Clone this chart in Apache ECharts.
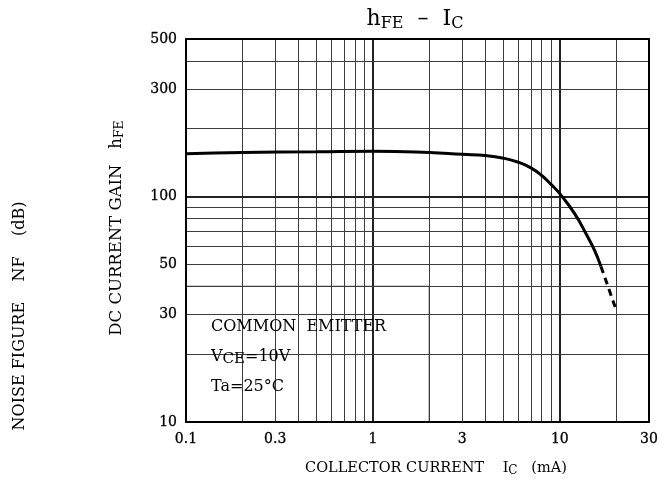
<!DOCTYPE html>
<html>
<head>
<meta charset="utf-8">
<script src="https://cdn.jsdelivr.net/npm/echarts@6/dist/echarts.min.js"></script>
<style>
html,body{margin:0;padding:0;background:#fff}
#main{width:670px;height:488px}
</style>
</head>
<body>
<div id="main"></div>
<script>
// hFE - IC curve
var icSolid  = [0.1, 0.2, 0.5, 1, 2, 3, 4, 5, 6, 7, 8, 9, 10, 12, 14, 15.3, 16.6];
var hfeSolid = [155, 157, 158, 159, 157, 154, 152, 148, 142, 134, 124, 113, 103, 84, 67, 58, 49];
var icDash   = [16.6, 20];
var hfeDash  = [49, 31.5];

// grid lines and tick labels
var xMinor = [0.2, 0.3, 0.4, 0.5, 0.6, 0.7, 0.8, 0.9, 2, 3, 4, 5, 6, 7, 8, 9, 20];
var xMajor = [1, 10];
var yMinor = [20, 30, 40, 50, 60, 70, 80, 90, 200, 300, 400];
var yMajor = [100];
var xTicks = [0.1, 0.3, 1, 3, 10, 30];
var yTicks = [10, 30, 50, 100, 300, 500];

// blank area holding the conditions text
var boxX = [0.1, 2];
var boxY = [10, 40];

var font = 'DejaVu Serif';

function gridLines(axis, minor, major) {
    return minor.concat(major).map(function (v) {
        var isMajor = major.indexOf(v) >= 0;
        var item = {
            lineStyle: {
                color: isMajor ? '#222' : '#3c3c3c',
                width: isMajor ? 2 : 1,
                type: 'solid'
            },
            label: { show: false }
        };
        item[axis] = v;
        return item;
    });
}

var mychart = echarts.init(document.getElementById('main'));

function frameAxis(pos, min, max, ticks) {
    return {
        type: 'log',
        logBase: 10,
        position: pos,
        min: min,
        max: max,
        z: 10,
        axisLine: { show: true, onZero: false, lineStyle: { color: '#000', width: 2 } },
        axisTick: { show: false },
        axisLabel: ticks ? {
            show: true,
            customValues: ticks,
            margin: (pos === 'bottom') ? 10 : 9,
            fontFamily: font,
            fontSize: 14,
            color: '#000',
            textBorderColor: '#000',
            textBorderWidth: 0.3,
            formatter: function (v) { return String(+v.toPrecision(3)); }
        } : { show: false },
        splitLine: { show: false }
    };
}

option = {
    animation: false,
    backgroundColor: '#fff',
    grid: { left: 186, right: 21, top: 39, bottom: 66 },
    xAxis: [
        frameAxis('bottom', 0.1, 30, xTicks),
        frameAxis('top', 0.1, 30, null)
    ],
    yAxis: [
        frameAxis('left', 10, 500, yTicks),
        frameAxis('right', 10, 500, null)
    ],
    graphic: [
        {
            type: 'text', x: 415, y: 20, z: 20,
            style: {
                text: '{m|h}{s|FE}{m|  –  I}{s|C}',
                align: 'center', verticalAlign: 'middle',
                rich: {
                    m: { fontFamily: font, fontSize: 22, color: '#000', lineHeight: 23, verticalAlign: 'top' },
                    s: { fontFamily: font, fontSize: 16, color: '#000', lineHeight: 16, verticalAlign: 'bottom', padding: [11, 0, 0, 0] }
                }
            }
        },
        {
            type: 'text', x: 436, y: 469, z: 20,
            style: {
                text: '{m|COLLECTOR CURRENT    I}{s|C}{m|   (mA)}',
                align: 'center', verticalAlign: 'middle',
                rich: {
                    m: { fontFamily: font, fontSize: 14.5, color: '#000', lineHeight: 16, verticalAlign: 'top' },
                    s: { fontFamily: font, fontSize: 12, color: '#000', lineHeight: 12, verticalAlign: 'bottom', padding: [8, 0, 0, 0] }
                }
            }
        },
        {
            type: 'text', x: 117, y: 228, rotation: Math.PI / 2, z: 20,
            style: {
                text: '{m|DC CURRENT GAIN   h}{s|FE}',
                align: 'center', verticalAlign: 'middle',
                rich: {
                    m: { fontFamily: font, fontSize: 16.5, color: '#000', lineHeight: 18, verticalAlign: 'top' },
                    s: { fontFamily: font, fontSize: 12.5, color: '#000', lineHeight: 12, verticalAlign: 'bottom', padding: [9, 0, 0, 0] }
                }
            }
        },
        {
            type: 'text', x: 20, y: 316, rotation: Math.PI / 2, z: 20,
            style: {
                text: 'NOISE FIGURE    NF    (dB)',
                align: 'center', verticalAlign: 'middle',
                fontFamily: font, fontSize: 16, fill: '#000'
            }
        },
        {
            type: 'text', x: 211, y: 327, z: 20,
            style: {
                text: 'COMMON  EMITTER',
                align: 'left', verticalAlign: 'middle',
                fontFamily: font, fontSize: 16, fill: '#000'
            }
        },
        {
            type: 'text', x: 211, y: 358, z: 20,
            style: {
                text: '{m|V}{s|CE}{m|=10V}',
                align: 'left', verticalAlign: 'middle',
                rich: {
                    m: { fontFamily: font, fontSize: 16, color: '#000', lineHeight: 18, verticalAlign: 'top' },
                    s: { fontFamily: font, fontSize: 15, color: '#000', lineHeight: 15, verticalAlign: 'bottom', padding: [7, 0, 0, 0] }
                }
            }
        },
        {
            type: 'text', x: 211, y: 387, z: 20,
            style: {
                text: 'Ta=25°C',
                align: 'left', verticalAlign: 'middle',
                fontFamily: font, fontSize: 16, fill: '#000'
            }
        }
    ],
    series: [
        {
            name: 'grid',
            type: 'line',
            data: [],
            z: 1,
            clip: false,
            silent: true,
            markLine: {
                silent: true,
                symbol: ['none', 'none'],
                animation: false,
                data: gridLines('xAxis', xMinor, xMajor).concat(gridLines('yAxis', yMinor, yMajor))
            }
        },
        {
            name: 'box',
            type: 'line',
            data: [],
            z: 2,
            silent: true,
            markArea: {
                silent: true,
                itemStyle: { color: '#fff', opacity: 1, borderColor: '#3c3c3c', borderWidth: 1 },
                data: [[{ xAxis: boxX[0], yAxis: boxY[0] }, { xAxis: boxX[1], yAxis: boxY[1] }]]
            }
        },
        {
            name: 'hFE',
            type: 'line',
            z: 12,
            smooth: true,
            showSymbol: false,
            lineStyle: { color: '#000', width: 3 },
            data: icSolid.map(function (x, i) { return [x, hfeSolid[i]]; })
        },
        {
            name: 'hFE dashed',
            type: 'line',
            z: 12,
            showSymbol: false,
            lineStyle: { color: '#000', width: 3, type: [7, 5] },
            data: icDash.map(function (x, i) { return [x, hfeDash[i]]; })
        }
    ]
};
mychart.setOption(option);
</script>
</body>
</html>
